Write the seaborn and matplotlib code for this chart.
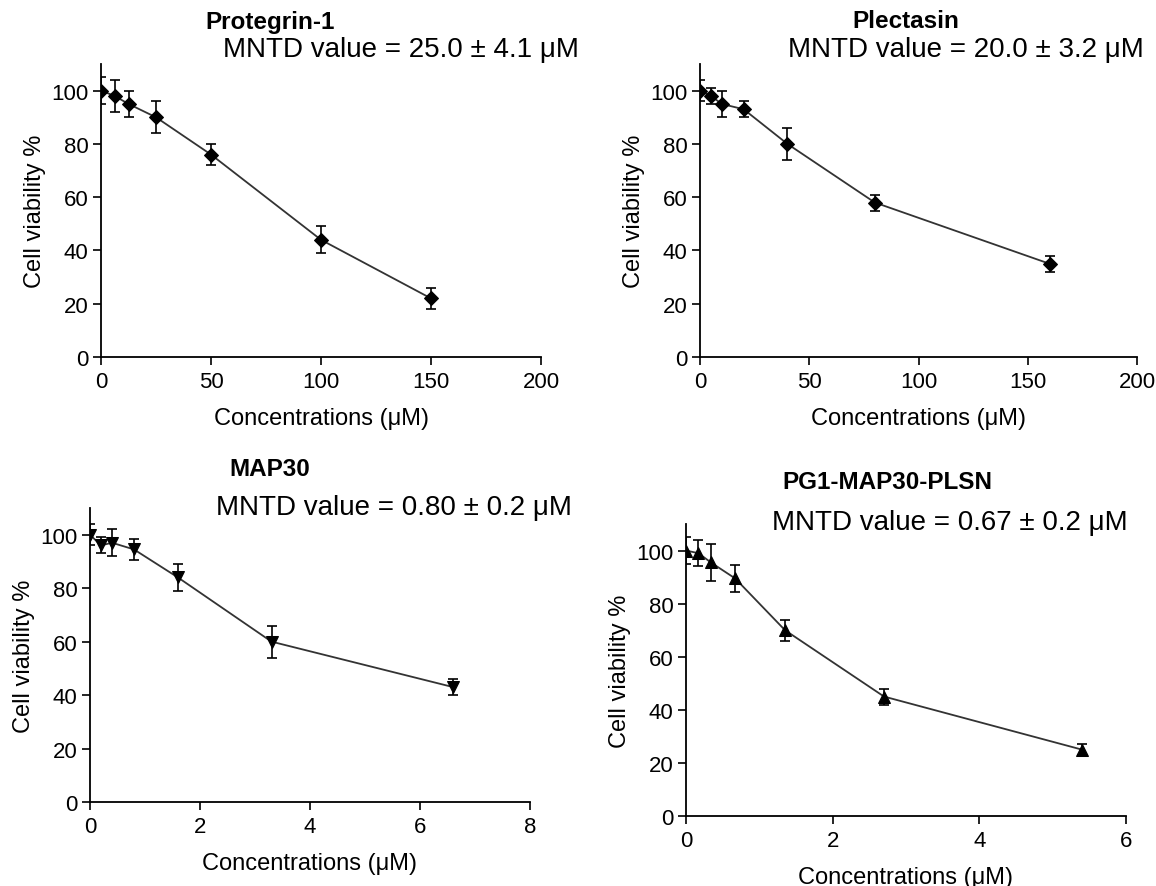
import matplotlib
matplotlib.use("Agg")
import matplotlib.pyplot as plt
import seaborn as sns
import pandas as pd

# Data (mean cell viability % +/- SD)
protegrin_conc = [0, 6.25, 12.5, 25, 50, 100, 150]
protegrin_viab = [100, 98, 95, 90, 76, 44, 22]
protegrin_sd = [5, 6, 5, 6, 4, 5, 4]

plectasin_conc = [0, 5, 10, 20, 40, 80, 160]
plectasin_viab = [100, 98, 95, 93, 80, 58, 35]
plectasin_sd = [4, 3, 5, 3, 6, 3, 3]

map30_conc = [0, 0.2, 0.4, 0.8, 1.6, 3.3, 6.6]
map30_viab = [100, 96, 97, 94.5, 84, 60, 43]
map30_sd = [4, 3, 5, 4, 5, 6, 3]

fusion_conc = [0, 0.17, 0.34, 0.67, 1.35, 2.7, 5.4]
fusion_viab = [100, 99, 95.5, 89.5, 70, 45, 25]
fusion_sd = [5, 5, 7, 5, 4, 3, 2]

titles = ["Protegrin-1", "Plectasin", "MAP30", "PG1-MAP30-PLSN"]
mntd_labels = ["MNTD value = 25.0 ± 4.1 μM", "MNTD value = 20.0 ± 3.2 μM",
               "MNTD value = 0.80 ± 0.2 μM", "MNTD value = 0.67 ± 0.2 μM"]
x_ticks = [[0, 50, 100, 150, 200], [0, 50, 100, 150, 200], [0, 2, 4, 6, 8], [0, 2, 4, 6]]
y_ticks = [0, 20, 40, 60, 80, 100]

sns.set_style("ticks")
plt.rcParams['font.family'] = ['Liberation Sans', 'DejaVu Sans']
plt.rcParams['text.color'] = 'black'
plt.rcParams['axes.labelcolor'] = 'black'


# A. One dose-response panel
def dose_plt(fig, rect, conc, viab, sd, marker, xt, title, mntd, title_pos, mntd_pos):
    ax = fig.add_axes(rect)
    df = pd.DataFrame({"conc": conc, "viab": viab})

    # error bars first, then the line with markers on top
    ax.errorbar(conc, viab, yerr=sd, fmt="none", ecolor="black", elinewidth=1.2,
                capsize=3.5, capthick=1.2, zorder=2)
    sns.lineplot(data=df, x="conc", y="viab", ax=ax, color="#333333", linewidth=1.3,
                 marker=marker, markersize=8 if marker != "D" else 7.5,
                 markerfacecolor="black", markeredgecolor="black", zorder=3)

    ax.set_xlim(xt[0], xt[-1])
    ax.set_ylim(0, 110)
    ax.set_xticks(xt)
    ax.set_yticks(y_ticks)
    ax.tick_params(labelsize=16, length=6, width=1.2, colors="black", pad=3)
    ax.tick_params(axis="x", pad=4)
    sns.despine(ax=ax)
    for s in ["left", "bottom"]:
        ax.spines[s].set_linewidth(1.3)
        ax.spines[s].set_color("black")
    ax.set_xlabel("Concentrations (μM)", fontsize=17, labelpad=11)
    ax.set_ylabel("Cell viability %", fontsize=17, labelpad=4)

    fig.text(title_pos[0], title_pos[1], title, fontsize=17.5, fontweight="bold",
             ha="center", va="center")
    fig.text(mntd_pos[0], mntd_pos[1], mntd, fontsize=20, ha="center", va="center")
    return ax


fig = plt.figure(figsize=(11.56, 8.87), dpi=100)
W, H = 1156, 887


def rect(left, right, bottom, top):
    return [left / W, 1 - bottom / H, (right - left) / W, (bottom - top) / H]


def pos(x, y):
    return (x / W, 1 - y / H)


dose_plt(fig, rect(101, 541, 358, 65), protegrin_conc, protegrin_viab, protegrin_sd, "D",
         x_ticks[0], titles[0], mntd_labels[0], pos(270, 22), pos(401, 50))
dose_plt(fig, rect(700, 1137, 358, 65), plectasin_conc, plectasin_viab, plectasin_sd, "D",
         x_ticks[1], titles[1], mntd_labels[1], pos(906, 22), pos(966, 50))
dose_plt(fig, rect(90, 530, 803, 509), map30_conc, map30_viab, map30_sd, "v",
         x_ticks[2], titles[2], mntd_labels[2], pos(270, 470), pos(394, 508))
dose_plt(fig, rect(686, 1126, 817, 525), fusion_conc, fusion_viab, fusion_sd, "^",
         x_ticks[3], titles[3], mntd_labels[3], pos(887, 483), pos(950, 523))

fig.savefig("out.png", dpi=100)
